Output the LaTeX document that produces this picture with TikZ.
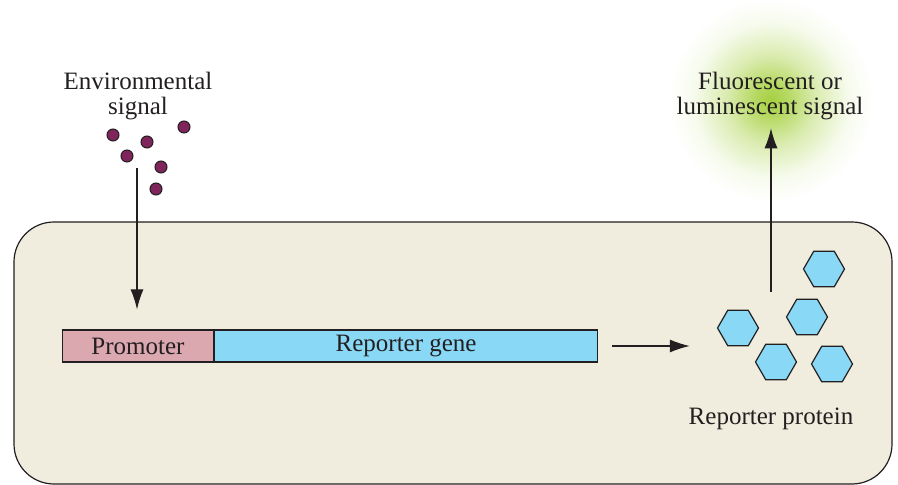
\documentclass[tikz,border=0pt]{standalone}
\usepackage{fontspec}
\setmainfont{Liberation Serif}
\usetikzlibrary{shapes.geometric,arrows.meta}
\definecolor{inkGray}{RGB}{35,31,32}
\definecolor{cellBeige}{RGB}{240,237,222}
\definecolor{promPink}{RGB}{219,168,176}
\definecolor{geneBlue}{RGB}{137,216,245}
\definecolor{dotPurple}{RGB}{128,36,92}
\definecolor{glowGreen}{RGB}{150,200,30}
\pgfdeclareradialshading{glowshade}{\pgfpoint{0bp}{0bp}}{color(0bp)=(glowGreen!85); color(4bp)=(glowGreen!70); color(11bp)=(glowGreen!35); color(19bp)=(glowGreen!8); color(25bp)=(white); color(50bp)=(white)}
\tikzset{
  lbl/.style={text=inkGray,font=\fontsize{12.5}{12.5}\selectfont,align=center,inner sep=0pt},
  sigdot/.style={circle,draw=inkGray,fill=dotPurple,line width=0.5pt,minimum size=6pt,inner sep=0pt},
  hexprot/.style={regular polygon,regular polygon sides=6,draw=inkGray,fill=geneBlue,line width=0.6pt,minimum size=20.5pt,inner sep=0pt},
  genebox/.style={draw=inkGray,line width=0.6pt,minimum height=16pt,inner sep=0pt,anchor=west,text=inkGray,font=\fontsize{12.5}{12.5}\selectfont},
  arr/.style={draw=inkGray,line width=0.6pt,-{Latex[length=10pt,width=6.5pt]}}
}

\begin{document}
\begin{tikzpicture}[x=0.5pt,y=-0.5pt]
\path[use as bounding box] (0,0) rectangle (898,485);

% glow behind the output signal
\shade[shading=glowshade] (771,100) circle (102);

% cell
\draw[rounded corners=20pt,draw=inkGray,fill=cellBeige,line width=0.6pt] (14,222) rectangle (892,484);

% input signal
\node[lbl] (envsig) at (138,96) {Environmental\\signal};
\node[sigdot] (d1) at (113,135) {};
\node[sigdot] (d2) at (184,127) {};
\node[sigdot] (d3) at (147,142) {};
\node[sigdot] (d4) at (127,156) {};
\node[sigdot] (d5) at (161,167) {};
\node[sigdot] (d6) at (156,189) {};
\coordinate (sigstart) at (137,168);

% construct
\node[genebox,fill=promPink,minimum width=75.3pt] (promoter) at (62,346) {Promoter};
\node[genebox,fill=geneBlue,minimum width=191.7pt] (gene) at (promoter.east) {Reporter gene};

% reporter protein
\node[hexprot] (hexA) at (738,328) {};
\node[hexprot] (hexB) at (807,317) {};
\node[hexprot] (hexC) at (824,269) {};
\node[hexprot] (hexD) at (776,362) {};
\node[hexprot] (hexE) at (832,364) {};
\node[lbl] (protein) at (771,419) {Reporter protein};
\coordinate (prottop) at (771,292);

% output signal
\node[lbl] (fluor) at (770,96) {Fluorescent or\\luminescent signal};

% arrows
\draw[arr,shorten >=10pt] (sigstart) -- (sigstart |- promoter.north);
\draw[arr,shorten <=7pt,shorten >=13.5pt] (gene.east) -- (gene.east -| hexA.west);
\draw[arr,shorten >=4pt] (prottop) -- (prottop |- fluor.south);
\end{tikzpicture}
\end{document}
